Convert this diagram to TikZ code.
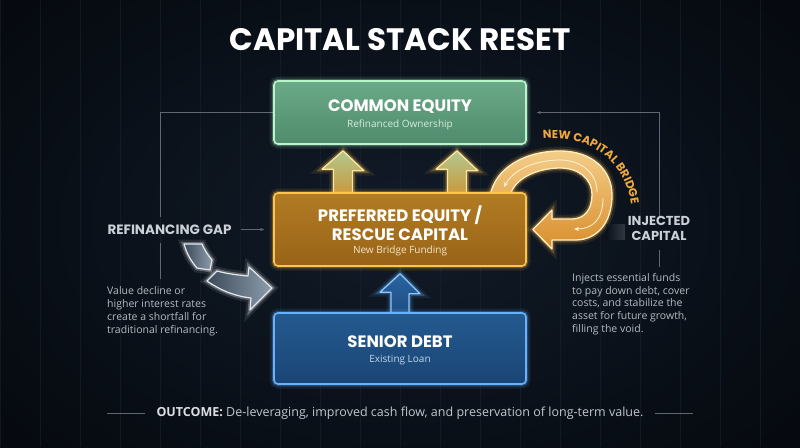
\documentclass[tikz,border=0pt]{standalone}
\usepackage{fontspec}
\setmainfont{Open Sans}
\newfontfamily\headfont{Poppins}
\usetikzlibrary{arrows.meta,calc,decorations.text}
\definecolor{bgc}{HTML}{060A10}
\definecolor{bgmid}{HTML}{111B28}
\definecolor{gridc}{HTML}{1A2533}
\definecolor{linec}{HTML}{5E6772}
\definecolor{comtop}{HTML}{6BAA88}
\definecolor{combot}{HTML}{4F8B6C}
\definecolor{comedge}{HTML}{B8F5CA}
\definecolor{comsub}{HTML}{D6ECDD}
\definecolor{preftop}{HTML}{B27C24}
\definecolor{prefbot}{HTML}{986317}
\definecolor{prefedge}{HTML}{FFC44F}
\definecolor{prefsub}{HTML}{F6E7C9}
\definecolor{sentop}{HTML}{245A90}
\definecolor{senbot}{HTML}{1A4575}
\definecolor{senedge}{HTML}{66B2FF}
\definecolor{sensub}{HTML}{C4D7EA}
\definecolor{labelc}{HTML}{CBD0D6}
\definecolor{bodyc}{HTML}{B6BBC1}
\definecolor{outc}{HTML}{C2C7CD}
\definecolor{outbold}{HTML}{DCE0E4}
\definecolor{bridgetxt}{HTML}{F2A93B}
\definecolor{goldedge}{HTML}{FBE7A2}
\definecolor{goldtop}{HTML}{B4C98F}
\definecolor{goldbot}{HTML}{C99436}
\definecolor{blueedge}{HTML}{8CC8FF}
\definecolor{bluetop}{HTML}{2A64A0}
\definecolor{bluebot}{HTML}{1D4B7E}
\definecolor{gapedge}{HTML}{E2E9F0}
\definecolor{gapleft}{HTML}{3C4A5A}
\definecolor{gapright}{HTML}{8E9DAC}
\definecolor{bridgeglow}{HTML}{FFB84A}
\definecolor{bridgeedge}{HTML}{FFF0C4}
\definecolor{bridgetop}{HTML}{F4CD88}
\definecolor{bridgebot}{HTML}{D88E2C}
\definecolor{flowc}{HTML}{FFF3D8}
\definecolor{injectbar}{HTML}{7A8088}
\tikzset{
  glow/.style={preaction={draw=#1,line width=9pt,opacity=.10},preaction={draw=#1,line width=4.5pt,opacity=.28}},
  stackbox/.style={rounded corners=4pt,line width=1.6pt,minimum width=252pt,inner sep=0pt},
  thinline/.style={draw=linec,line width=.6pt},
  boxtitle/.style={text=white,font=\headfont\bfseries\fontsize{16.5}{19.5}\selectfont,align=center},
  boxsub/.style={font=\fontsize{10}{12}\selectfont},
  sidelabel/.style={text=labelc,font=\headfont\bfseries\fontsize{13.5}{15}\selectfont,align=center},
  bodytext/.style={text=bodyc,anchor=north west,inner sep=0pt,align=left,font=\fontsize{10.5}{13}\selectfont},
  goldarrow/.style={glow=prefedge,draw=goldedge,line width=1.3pt,top color=goldtop,bottom color=goldbot,line join=round},
  bluearrow/.style={glow=senedge,draw=blueedge,line width=1.3pt,top color=bluetop,bottom color=bluebot,line join=round},
  gaparrow/.style={glow=white,draw=gapedge,line width=1.2pt,left color=gapleft,right color=gapright,line join=round},
  bridge/.style={glow=bridgeglow,draw=bridgeedge,line width=1.3pt,top color=bridgetop,bottom color=bridgebot,line join=round},
  flow/.style={draw=flowc,line width=.8pt,-{Stealth[length=5pt,width=4pt]}},
}
\begin{document}
\begin{tikzpicture}[x=1pt,y=-1pt]
\path[use as bounding box] (0,0) rectangle (800,447);
\shade[inner color=bgmid,outer color=bgc] (-100,-100) rectangle (900,547);
\draw[gridc,line width=.4pt,opacity=.5,step=40] (0,0) grid (800,447);
\node[text=white,font=\headfont\bfseries\fontsize{31}{36}\selectfont] (title) at (400,40) {CAPITAL STACK RESET};
\node[stackbox,minimum height=63pt] (common) at (400,112.5) {};
\node[stackbox,minimum height=73pt] (pref) at (400,229.5) {};
\node[stackbox,minimum height=71pt] (senior) at (400,348.5) {};
\draw[thinline] (common.west) -- (160,112.5) -- (160,217);
\draw[thinline] (160,243) -- (160,279);
\draw[thinline,-{Stealth[length=4pt,width=3pt]}] (659,217) -- (659,112.5) -- ([xshift=10]common.east);
\draw[thinline] (659,250) -- (659,267);
\draw[goldarrow] ([xshift=-66.5,yshift=-3]pref.north) -- ++(0,-26) -- ++(-11.5,0) -- ([xshift=-57,yshift=-6]common.south) -- ++(21,20) -- ++(-11.5,0) -- ++(0,26) -- cycle;
\draw[goldarrow] ([xshift=47.5,yshift=-3]pref.north) -- ++(0,-26) -- ++(-11.5,0) -- ([xshift=57,yshift=-6]common.south) -- ++(21,20) -- ++(-11.5,0) -- ++(0,26) -- cycle;
\draw[bluearrow] ([xshift=-9,yshift=-3]senior.north) -- ++(0,-23) -- ++(-11,0) -- ([yshift=-7]pref.south) -- ++(20,20) -- ++(-11,0) -- ++(0,23) -- cycle;
\draw[bridge] (490,196) .. controls (495,168) and (525,151) .. (560,151) .. controls (592,151) and (612,170) .. (612,195) .. controls (612,222) and (598,240) .. (575,240) -- (552,240) -- (552,249) -- ([xshift=6]pref.east) -- (552,210) -- (552,219) -- (572,219) .. controls (584,219) and (592,210) .. (592,195) .. controls (592,178) and (578,168) .. (560,168) .. controls (538,168) and (514,178) .. (510,196) -- cycle;
\draw[flow] (597,192) .. controls (597,172) and (580,160) .. (560,160) .. controls (535,160) and (513,170) .. (504,187);
\draw[flow] (603,198) .. controls (603,220) and (592,229) .. (574,229);
\begin{scope}
\headfont\bfseries\fontsize{11.5}{13}\selectfont
\path[decorate,decoration={text along path,text align=center,text={|\color{bridgetxt}|NEW CAPITAL BRIDGE}}] (522,143) .. controls (592,124) and (636,168) .. (632,226);
\end{scope}
\shade[left color=bgc,right color=injectbar,opacity=.35] (606,224) rectangle (625,239);
\node[stackbox,glow=comedge,draw=comedge,top color=comtop,bottom color=combot,minimum height=63pt] at (common) {};
\node[stackbox,glow=prefedge,draw=prefedge,top color=preftop,bottom color=prefbot,minimum height=73pt] at (pref) {};
\node[stackbox,glow=senedge,draw=senedge,top color=sentop,bottom color=senbot,minimum height=71pt] at (senior) {};
\node[boxtitle] (commontitle) at (400,107) {COMMON EQUITY};
\node[boxsub,text=comsub] (commonsub) at (400,125) {Refinanced Ownership};
\node[boxtitle] (preftitle) at (400,223) {PREFERRED EQUITY /\\[-1pt]RESCUE CAPITAL};
\node[boxsub,text=prefsub] (prefsub) at (400,251) {New Bridge Funding};
\node[boxtitle] (seniortitle) at (400,342) {SENIOR DEBT};
\node[boxsub,text=sensub] (seniorsub) at (400,360) {Existing Loan};
\node[sidelabel] (gap) at (169.5,229.5) {REFINANCING GAP};
\draw[thinline,-{Stealth[length=4pt,width=3pt]}] ([xshift=6]gap.east) -- ([xshift=-9]pref.west |- gap.east);
\draw[gaparrow] (184,244) .. controls (187,254) and (191,261) .. (197,268) -- (210,270) -- (212,260) .. controls (207,254) and (204,249) .. (202,244) -- cycle;
\draw[gaparrow] (207,281) -- (217,271) .. controls (228,274) and (238,275) .. (248,276) -- (249,267) -- (272,288) -- (250,310) -- (251,298) .. controls (234,296) and (220,290) .. (207,281) -- cycle;
\node[sidelabel,font=\headfont\bfseries\fontsize{13}{15}\selectfont] (inject) at (659,228.5) {INJECTED\\CAPITAL};
\node[bodytext] (gapnote) at (107,286) {Value decline or\\higher interest rates\\create a shortfall for\\traditional refinancing.};
\node[bodytext,font=\fontsize{10.5}{12.8}\selectfont] (injectnote) at (572,273) {Injects essential funds\\to pay down debt, cover\\costs, and stabilize the\\asset for future growth,\\filling the void.};
\node[text=outc,font=\fontsize{12.5}{15}\selectfont] (outcome) at (400,413) {\textcolor{outbold}{\textbf{OUTCOME:}} De-leveraging, improved cash flow, and preservation of long-term value.};
\draw[thinline] ([xshift=-8]outcome.west) -- (107,413);
\draw[thinline] ([xshift=8]outcome.east) -- (693,413);
\end{tikzpicture}
\end{document}
